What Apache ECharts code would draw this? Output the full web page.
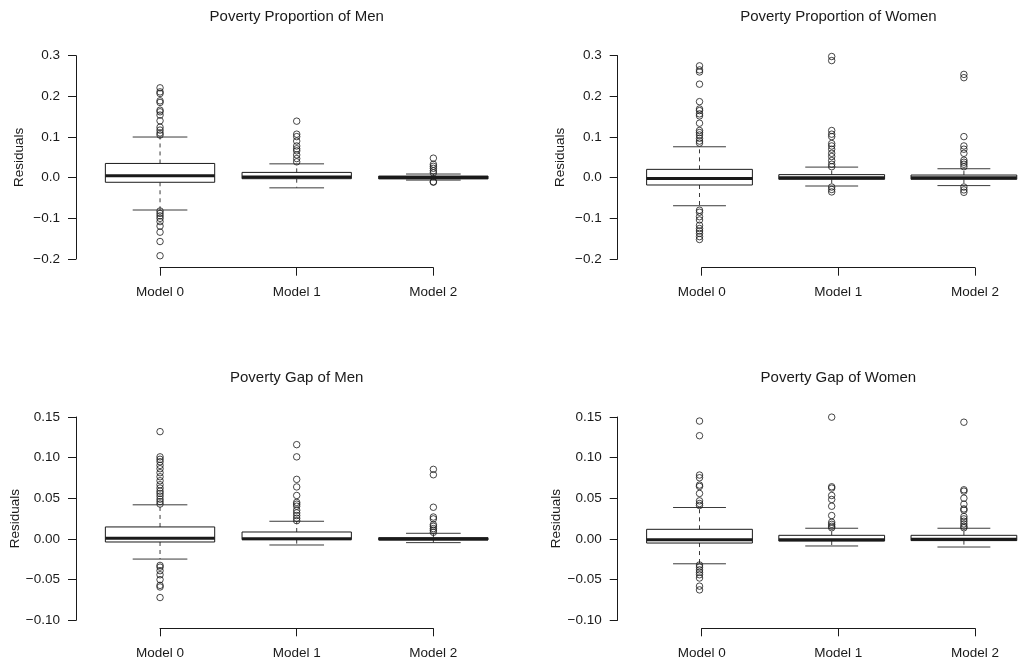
<!DOCTYPE html>
<html>
<head>
<meta charset="utf-8">
<script src="https://cdn.jsdelivr.net/npm/echarts@6/dist/echarts.min.js"></script>
<style>
  html, body { margin: 0; padding: 0; background: #fff; }
  #main { width: 1030px; height: 663px; }
</style>
</head>
<body>
<div id="main"></div>
<script>
// categories on every panel
var categories = ['Model 0', 'Model 1', 'Model 2'];
var titles = ['Poverty Proportion of Men', 'Poverty Proportion of Women',
              'Poverty Gap of Men', 'Poverty Gap of Women'];

// box stats per model: [lower whisker, Q1, median, Q3, upper whisker]
var propMenBox = [[-0.0795, -0.0113, 0.0049, 0.035, 0.100],
                  [-0.025, -0.0025, 0.0015, 0.013, 0.034],
                  [-0.0059, -0.003, 0.0005, 0.004, 0.009]];
var propWomenBox = [[-0.069, -0.018, -0.002, 0.0205, 0.076],
                    [-0.0205, -0.004, 0.0, 0.0075, 0.026],
                    [-0.0195, -0.004, 0.0, 0.0065, 0.022]];
var gapMenBox = [[-0.0247, -0.0037, 0.001, 0.0148, 0.042],
                 [-0.0074, -0.0008, 0.0004, 0.0086, 0.0218],
                 [-0.0045, -0.0012, 0.0, 0.0016, 0.007]];
var gapWomenBox = [[-0.0305, -0.005, -0.0008, 0.0119, 0.0387],
                   [-0.0086, -0.0025, -0.0008, 0.0045, 0.0132],
                   [-0.0099, -0.002, -0.0004, 0.0045, 0.0132]];

// outliers per model
var propMenOut = [
  [0.221, 0.211, 0.207, 0.189, 0.185, 0.166, 0.162, 0.154, 0.140, 0.124, 0.117, 0.110, 0.105,
   -0.082, -0.088, -0.094, -0.100, -0.108, -0.119, -0.134, -0.157, -0.192],
  [0.139, 0.107, 0.101, 0.090, 0.078, 0.071, 0.066, 0.056, 0.047, 0.039],
  [0.048, 0.033, 0.028, 0.023, 0.017, 0.012, -0.010, -0.011]
];
var propWomenOut = [
  [0.275, 0.265, 0.260, 0.230, 0.187, 0.169, 0.165, 0.157, 0.152, 0.134, 0.116, 0.111, 0.105,
   0.097, 0.090, 0.085, -0.080, -0.085, -0.096, -0.104, -0.117, -0.125, -0.131, -0.137, -0.145, -0.152],
  [0.298, 0.288, 0.116, 0.107, 0.101, 0.084, 0.078, 0.070, 0.060, 0.052, 0.042, 0.033, 0.027,
   -0.023, -0.029, -0.035],
  [0.254, 0.246, 0.101, 0.078, 0.070, 0.060, 0.043, 0.038, 0.033, 0.027, -0.023, -0.030, -0.036]
];
var gapMenOut = [
  [0.132, 0.101, 0.098, 0.095, 0.0905, 0.0864, 0.0815, 0.0765, 0.0716, 0.0667, 0.0626, 0.0588,
   0.056, 0.0527, 0.049, 0.046, 0.043, -0.0325, -0.0346, -0.039, -0.044, -0.050, -0.057, -0.059, -0.072],
  [0.116, 0.101, 0.0733, 0.064, 0.0535, 0.045, 0.0428, 0.0403, 0.0354, 0.0321, 0.0288, 0.0255, 0.0225],
  [0.0856, 0.079, 0.039, 0.027, 0.0247, 0.0177, 0.0156, 0.0128, 0.0107, 0.0082]
];
var gapWomenOut = [
  [0.145, 0.127, 0.0786, 0.0753, 0.0663, 0.0646, 0.056, 0.0469, 0.0436, 0.0412,
   -0.032, -0.0346, -0.038, -0.041, -0.044, -0.048, -0.058, -0.0626],
  [0.1498, 0.0642, 0.0626, 0.0535, 0.0486, 0.0403, 0.0288, 0.0206, 0.018, 0.0156, 0.0138],
  [0.1436, 0.0605, 0.0588, 0.0502, 0.0428, 0.037, 0.0354, 0.0276, 0.0247, 0.0218, 0.0185, 0.0156, 0.0138]
];

// y axis ticks for top row and bottom row
var topTicks = { min: -0.2, max: 0.3, interval: 0.1, digits: 1 };
var bottomTicks = { min: -0.1, max: 0.15, interval: 0.05, digits: 2 };

var boxes = [propMenBox, propWomenBox, gapMenBox, gapWomenBox];
var outliers = [propMenOut, propWomenOut, gapMenOut, gapWomenOut];

var FONT = '"Liberation Sans", Arial, Helvetica, sans-serif';
var INK = '#1a1a1a';

// R-like box: dashed whiskers, half-width staples, thick median
function renderBox(params, api) {
  var i = api.value(0);
  var lo = api.coord([i, api.value(1)]);
  var q1 = api.coord([i, api.value(2)]);
  var med = api.coord([i, api.value(3)]);
  var q3 = api.coord([i, api.value(4)]);
  var hi = api.coord([i, api.value(5)]);
  var bw = api.size([1, 0])[0] * 0.8;
  var sw = bw * 0.5;
  var x = med[0];
  var thin = { stroke: '#3a3a3a', lineWidth: 1 };
  return {
    type: 'group',
    children: [
      { type: 'line', shape: { x1: x, y1: q3[1], x2: x, y2: hi[1] },
        style: { stroke: '#3a3a3a', lineWidth: 1, lineDash: [4, 4] } },
      { type: 'line', shape: { x1: x, y1: q1[1], x2: x, y2: lo[1] },
        style: { stroke: '#3a3a3a', lineWidth: 1, lineDash: [4, 4] } },
      { type: 'line', shape: { x1: x - sw / 2, y1: hi[1], x2: x + sw / 2, y2: hi[1] }, style: thin },
      { type: 'line', shape: { x1: x - sw / 2, y1: lo[1], x2: x + sw / 2, y2: lo[1] }, style: thin },
      { type: 'rect', shape: { x: x - bw / 2, y: q3[1], width: bw, height: q1[1] - q3[1] },
        style: { fill: '#fff', stroke: INK, lineWidth: 1 } },
      { type: 'line', shape: { x1: x - bw / 2, y1: med[1], x2: x + bw / 2, y2: med[1] },
        style: { stroke: INK, lineWidth: 3 } }
    ]
  };
}

function fmt(digits) {
  return function (v) {
    return v.toFixed(digits).replace('-', '\u2212');
  };
}

var option = {
  backgroundColor: '#fff',
  animation: false,
  title: [], grid: [], xAxis: [], yAxis: [], series: []
};

for (var p = 0; p < 4; p++) {
  var col = p % 2, row = Math.floor(p / 2);
  var dx = col * 541.7, dy = row * 361.3;
  var ticks = row === 0 ? topTicks : bottomTicks;
  var g = p * 2;

  option.title.push({
    text: titles[p], left: 296.7 + dx, top: 9 + dy, textAlign: 'center', padding: 0,
    textStyle: { fontFamily: FONT, fontSize: 15, fontWeight: 'normal', color: INK }
  });

  // data grid
  option.grid.push({ left: 91.7 + dx, top: 55.7 + dy, width: 410, height: 203.3 });
  // grid that only carries the R style x axis (first to last category)
  option.grid.push({ left: 160 + dx, top: 266.7 + dy - row * 0.7, width: 273.3, height: 1 });

  option.xAxis.push({
    type: 'category', gridIndex: g, data: categories, boundaryGap: true, show: false
  });
  option.xAxis.push({
    type: 'category', gridIndex: g + 1, data: categories, boundaryGap: false,
    axisLine: { lineStyle: { color: INK, width: 1 } },
    axisTick: { length: 8, lineStyle: { color: INK } },
    axisLabel: { margin: 18, color: INK, fontFamily: FONT, fontSize: 13.5 },
    splitLine: { show: false }
  });

  option.yAxis.push({
    type: 'value', gridIndex: g, min: ticks.min, max: ticks.max, interval: ticks.interval,
    offset: 15.7,
    name: 'Residuals', nameLocation: 'middle', nameGap: 50,
    nameTextStyle: { fontFamily: FONT, fontSize: 13.5, color: INK },
    axisLine: { show: true, lineStyle: { color: INK, width: 1 } },
    axisTick: { show: true, length: 8, lineStyle: { color: INK } },
    axisLabel: { margin: 16, color: INK, fontFamily: FONT, fontSize: 13.5, formatter: fmt(ticks.digits) },
    splitLine: { show: false }
  });
  option.yAxis.push({ type: 'value', gridIndex: g + 1, show: false });

  var boxData = boxes[p].map(function (b, i) { return [i].concat(b); });
  option.series.push({
    type: 'custom', xAxisIndex: g, yAxisIndex: g,
    renderItem: renderBox, encode: { x: 0, y: [1, 2, 3, 4, 5] },
    data: boxData, z: 2, clip: false
  });

  var outData = [];
  outliers[p].forEach(function (vals, i) {
    vals.forEach(function (v) { outData.push([i, v]); });
  });
  option.series.push({
    type: 'scatter', xAxisIndex: g, yAxisIndex: g, data: outData,
    symbol: 'circle', symbolSize: 6.5, z: 3, clip: false,
    itemStyle: { color: 'rgba(0,0,0,0)', borderColor: INK, borderWidth: 1 }
  });
}

var chart = echarts.init(document.getElementById('main'));
chart.setOption(option);
</script>
</body>
</html>
